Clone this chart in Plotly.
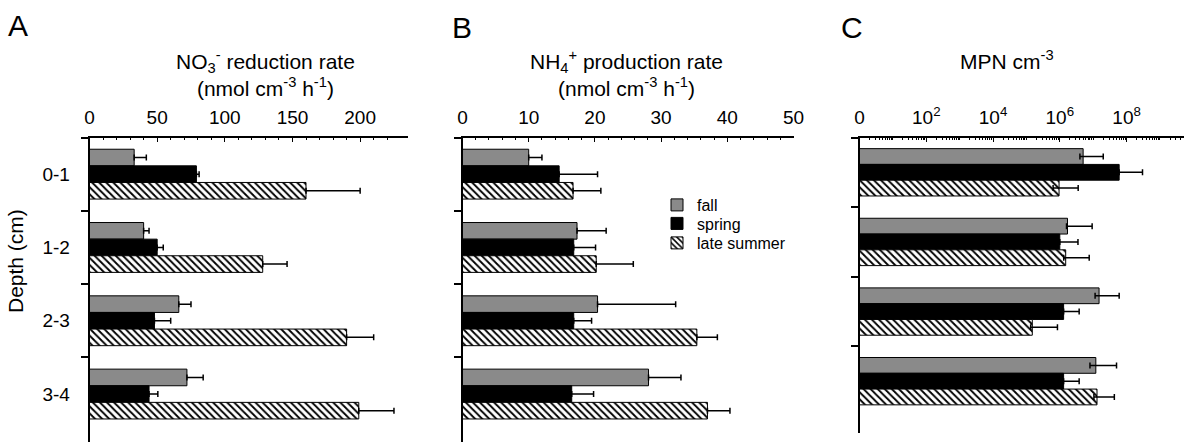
import plotly.graph_objects as go

# ---------------- data ----------------
depths = ["0-1", "1-2", "2-3", "3-4"]
seasons = ["fall", "spring", "late summer"]

# Panel A: NO3- reduction rate (nmol cm-3 h-1)
no3_fall = [33, 40, 66, 72]
no3_fall_err = [9, 4, 9, 12]
no3_spring = [79, 50, 48, 44]
no3_spring_err = [2, 4.5, 12, 6.5]
no3_late = [160, 128, 190, 199]
no3_late_err = [40, 18, 20, 26]

# Panel B: NH4+ production rate (nmol cm-3 h-1)
nh4_fall = [10.0, 17.3, 20.4, 28.1]
nh4_fall_err = [2.0, 4.4, 11.8, 4.9]
nh4_spring = [14.6, 16.8, 16.8, 16.5]
nh4_spring_err = [5.8, 3.3, 2.7, 3.3]
nh4_late = [16.7, 20.2, 35.4, 37.0]
nh4_late_err = [4.2, 5.6, 3.1, 3.4]

# Panel C: MPN cm-3
mpn_fall = [5.0e6, 1.7e6, 1.5e7, 1.2e7]
mpn_fall_err_plus = [1.5e7, 7.6e6, 4.5e7, 3.8e7]
mpn_fall_err_minus = [1.0e6, 1.1e5, 3.6e6, 4.0e6]
mpn_spring = [6.0e7, 1.0e6, 1.3e6, 1.3e6]
mpn_spring_err_plus = [2.4e8, 2.5e6, 2.5e6, 2.5e6]
mpn_spring_err_minus = [0, 0, 0, 0]
mpn_late = [9.5e5, 1.5e6, 1.5e5, 1.3e7]
mpn_late_err_plus = [2.6e6, 6.1e6, 7.0e5, 3.0e7]
mpn_late_err_minus = [3.2e5, 1.9e5, 1.6e4, 2.5e6]

# tick labels
a_tickvals = [0, 50, 100, 150, 200]
a_ticktext = ["0", "50", "100", "150", "200"]
a_minor = [v for v in range(10, 230, 10) if v % 50 != 0]
b_tickvals = [0, 10, 20, 30, 40, 50]
b_ticktext = ["0", "10", "20", "30", "40", "50"]
b_minor = [v for v in range(2, 50, 2) if v % 10 != 0]
c_tickvals = [1, 1e2, 1e4, 1e6, 1e8]
c_ticktext = ["0", "10<sup>2</sup>", "10<sup>4</sup>", "10<sup>6</sup>", "10<sup>8</sup>"]
c_minor = [k * 10 ** n for n in range(0, 10) for k in range(1, 10) if not (k == 1 and n % 2 == 0)]

# ---------------- layout helpers ----------------
W, H = 1184, 442
FONT = "Liberation Sans, Arial, sans-serif"


def fx(p):
    return p / W


def fy(p):
    return 1 - p / H


markers = {
    "fall": dict(color="#8a8a8a", line=dict(color="black", width=1)),
    "spring": dict(color="black", line=dict(color="black", width=1)),
    "late summer": dict(color="white", line=dict(color="black", width=1),
                        pattern=dict(shape="\\", fgcolor="black", bgcolor="white",
                                     size=5, solidity=0.38)),
}
legend_ids = {"fall": "legend", "spring": "legend2", "late summer": "legend3"}

panels = [
    ("x", "y", [no3_fall, no3_spring, no3_late],
     [no3_fall_err, no3_spring_err, no3_late_err], [[0] * 4] * 3),
    ("x2", "y2", [nh4_fall, nh4_spring, nh4_late],
     [nh4_fall_err, nh4_spring_err, nh4_late_err], [[0] * 4] * 3),
    ("x3", "y3", [mpn_fall, mpn_spring, mpn_late],
     [mpn_fall_err_plus, mpn_spring_err_plus, mpn_late_err_plus],
     [mpn_fall_err_minus, mpn_spring_err_minus, mpn_late_err_minus]),
]

fig = go.Figure()
for pi, (xa, ya, vals, errp, errm) in enumerate(panels):
    for si, s in enumerate(seasons):
        fig.add_trace(go.Bar(
            x=vals[si], y=depths, orientation="h", name=s,
            xaxis=xa, yaxis=ya, marker=markers[s],
            legend=legend_ids[s], showlegend=(pi == 0),
            error_x=dict(type="data", array=errp[si], arrayminus=errm[si],
                         symmetric=False, color="black", thickness=1.5, width=3),
        ))

top_px = 137.5
common_x = dict(side="top", showline=True, linecolor="black", linewidth=1.5,
                ticks="inside", ticklen=5, tickwidth=1.2, tickcolor="black",
                showgrid=False, zeroline=False, automargin=False,
                tickfont=dict(size=19, color="black", family=FONT),
                ticklabelstandoff=4, fixedrange=True)
common_y = dict(type="category", tickson="boundaries", ticks="outside", ticklen=7,
                tickwidth=1.5, tickcolor="black", showline=True, linecolor="black",
                linewidth=1.5, showgrid=False, zeroline=False, fixedrange=True,
                automargin=False, ticklabelstandoff=14)
minor_common = dict(tickmode="array", ticks="inside", ticklen=3, tickwidth=1,
                    tickcolor="black", showgrid=False)

leg_common = dict(xanchor="left", yanchor="top", bgcolor="rgba(0,0,0,0)",
                  font=dict(size=16, family=FONT, color="black"), borderwidth=0)
leg_left = fx(697 - 40)

fig.update_layout(
    template="none",
    width=W, height=H, margin=dict(l=0, r=0, t=0, b=0, autoexpand=False),
    paper_bgcolor="white", plot_bgcolor="white",
    barmode="group", bargap=0.32, bargroupgap=0,
    font=dict(family=FONT, color="black", size=16),
    xaxis=dict(domain=[fx(89.5), fx(407.5)], range=[0, 235], anchor="y",
               tickmode="array", tickvals=a_tickvals, ticktext=a_ticktext,
               minor=dict(tickvals=a_minor, **minor_common), **common_x),
    xaxis2=dict(domain=[fx(462.5), fx(793.5)], range=[0, 50], anchor="y2",
                tickmode="array", tickvals=b_tickvals, ticktext=b_ticktext,
                minor=dict(tickvals=b_minor, **minor_common), **common_x),
    xaxis3=dict(domain=[fx(859.5), 1.0], type="log", range=[0, 9.72], anchor="y3",
                tickmode="array", tickvals=c_tickvals, ticktext=c_ticktext,
                minor=dict(tickvals=c_minor, **minor_common), **common_x),
    yaxis=dict(domain=[0, fy(top_px)], range=[3.654, -0.5], anchor="x",
               tickfont=dict(size=19, color="black", family=FONT), **common_y),
    yaxis2=dict(domain=[0, fy(top_px)], range=[3.654, -0.5], anchor="x2",
                showticklabels=False, **common_y),
    yaxis3=dict(domain=[fy(432.7), fy(top_px)], range=[3.74, -0.5], anchor="x3",
                showticklabels=False, **common_y),
    legend=dict(x=leg_left, y=fy(204 - 16), **leg_common),
    legend2=dict(x=leg_left, y=fy(222.5 - 16), **leg_common),
    legend3=dict(x=leg_left, y=fy(242 - 16), **leg_common),
    showlegend=True,
)

annotations = []
for text, x, y in [("A", 18, 25), ("B", 462, 27), ("C", 852, 27)]:
    annotations.append(dict(text=text, x=fx(x), y=fy(y), xref="paper", yref="paper",
                            showarrow=False, xanchor="center", yanchor="middle",
                            font=dict(size=30, family=FONT, color="black")))
titles = [
    ("NO<sub>3</sub><sup>-</sup> reduction rate<br>(nmol cm<sup>-3</sup> h<sup>-1</sup>)", 265, 74),
    ("NH<sub>4</sub><sup>+</sup> production rate<br>(nmol cm<sup>-3</sup> h<sup>-1</sup>)", 626, 74),
    ("MPN cm<sup>-3</sup>", 1007, 60),
]
for t, x, y in titles:
    annotations.append(dict(text=t, x=fx(x), y=fy(y), xref="paper", yref="paper",
                            showarrow=False, xanchor="center", yanchor="middle",
                            font=dict(size=21, family=FONT, color="black")))
annotations.append(dict(text="Depth (cm)", x=fx(15), y=fy(261), xref="paper", yref="paper",
                        showarrow=False, textangle=-90, xanchor="center", yanchor="middle",
                        font=dict(size=21, family=FONT, color="black")))
fig.update_layout(annotations=annotations)

fig.write_html("out.html")
